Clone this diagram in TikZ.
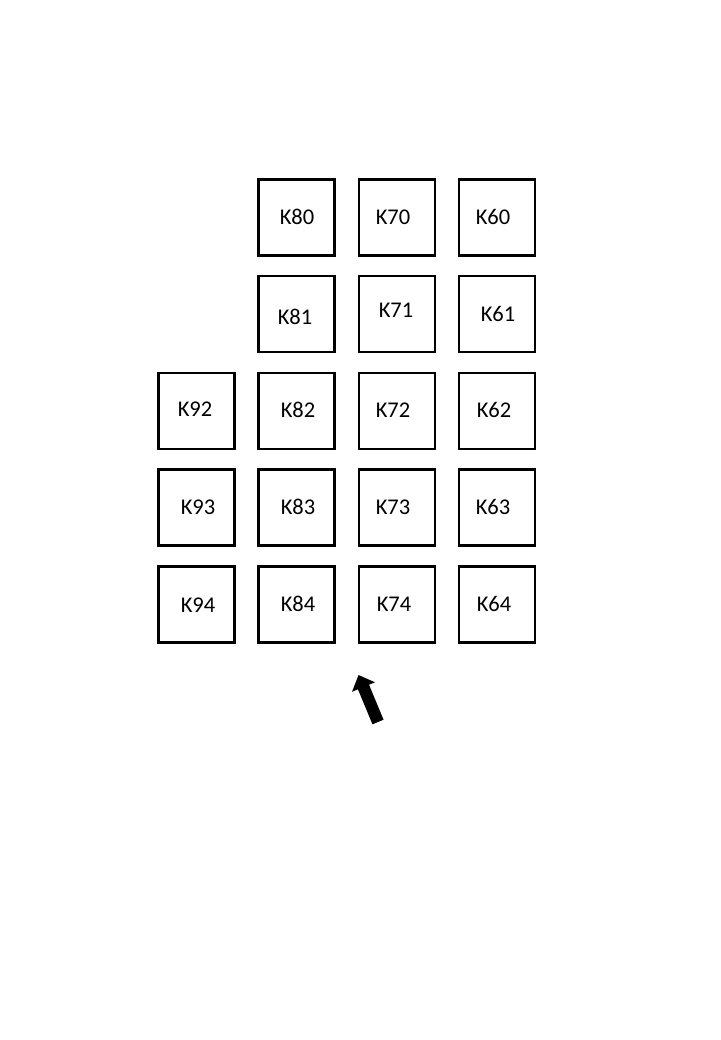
\documentclass[tikz,border=0pt]{standalone}
\usepackage{fontspec}
\setmainfont{Carlito}
\usetikzlibrary{arrows.meta}
\begin{document}
\begin{tikzpicture}[x=1pt,y=-1pt,
  cell/.style={draw=black,line width=2.8pt,minimum width=76pt,minimum height=76pt,inner sep=0pt},
  lbl/.style={font=\fontsize{22.5}{26}\selectfont,inner sep=0pt}]
\useasboundingbox (0,0) rectangle (720,1040);
% boxes
\foreach \n/\x/\y in {80/296.5/217.5,70/397/217.5,60/497/217.5,
  81/296.5/314,71/397/314,61/497/314,
  92/196.5/411,82/296.5/411,72/397/411,62/497/411,
  93/196.5/507.5,83/296.5/507.5,73/397/507.5,63/497/507.5,
  94/196.5/604.5,84/296.5/604.5,74/397/604.5,64/497/604.5}
  \node[cell] (b\n) at (\x,\y) {};
% labels
\foreach \n/\x/\y in {80/297/217,70/393/217,60/493/217,
  81/295/317,71/396/310,61/498/314,
  92/195/409,82/298/410,72/393/410,62/494/410,
  93/198/507,83/298/507,73/393/507,63/493/507,
  94/198/605,84/298/604,74/394/604,64/494/604}
  \node[lbl,anchor=center] (t\n) at (\x,\y) {\vphantom{K8}K\n};
% arrow
\coordinate (atail) at (378,722);
\coordinate (atip) at (358.5,675);
\draw[line width=12pt,-{Triangle[length=13pt,width=24pt]}] (atail) -- (atip);
\end{tikzpicture}
\end{document}
